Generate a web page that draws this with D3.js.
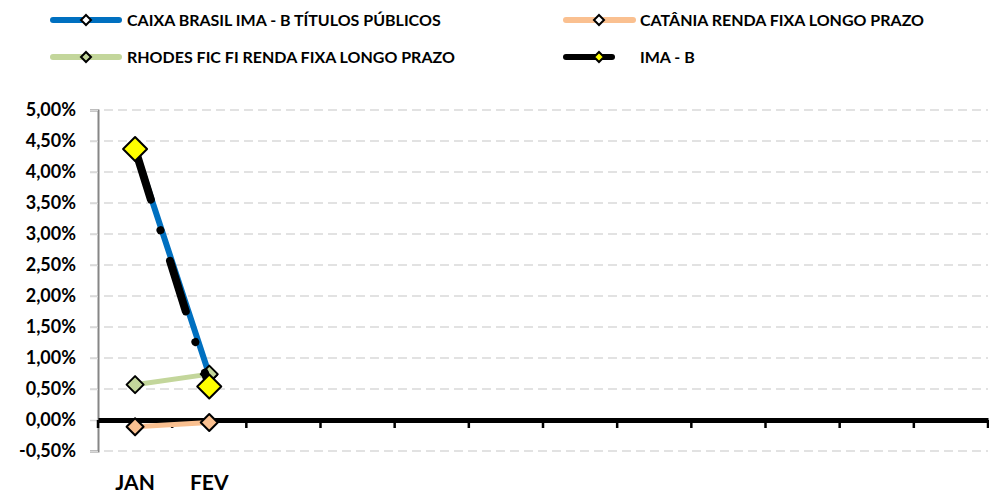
<!DOCTYPE html>
<html>
<head>
<meta charset="utf-8">
<script src="https://cdn.jsdelivr.net/npm/d3@7"></script>
<style>
    body { margin: 0; background: #fff; }
    text { font-family: Lato, "Open Sans", sans-serif; font-weight: bold; fill: #000; }
</style>
</head>
<body>
<svg id="chart" width="989" height="494"></svg>
<script>
// Categories (only JAN and FEV have values)
var months = ["JAN", "FEV", "MAR", "ABR", "MAI", "JUN", "JUL", "AGO", "SET", "OUT", "NOV", "DEZ"];
var monthLabels = ["JAN", "FEV", "", "", "", "", "", "", "", "", "", ""];
var yTicks = [-0.5, 0, 0.5, 1, 1.5, 2, 2.5, 3, 3.5, 4, 4.5, 5];

// Series values (% per month)
var caixa = [4.37, 0.73];
var catania = [-0.11, -0.04];
var rhodes = [0.57, 0.74];
var imab = [4.37, 0.54];

var seriesNames = ["CAIXA BRASIL IMA - B TÍTULOS PÚBLICOS", "CATÂNIA RENDA FIXA LONGO PRAZO",
                   "RHODES FIC FI RENDA FIXA LONGO PRAZO", "IMA - B"];

var svg = d3.select("#chart");

var x = d3.scaleBand().domain(months).range([98, 988]);
var y = d3.scaleLinear().domain([-0.5, 5]).range([451, 110]);

var fmt = function (v) { return v.toFixed(2).replace(".", ",") + "%"; };

// gridlines
svg.append("g").selectAll("line")
    .data(yTicks.filter(d => d !== 0))
    .enter().append("line")
        .attr("x1", 90).attr("x2", 988)
        .attr("y1", d => y(d)).attr("y2", d => y(d))
        .attr("stroke", "#d9d9d9")
        .attr("stroke-width", 1.5)
        .attr("stroke-dasharray", "9,5");

// y axis
var yAxis = svg.append("g")
    .attr("transform", "translate(98,0)")
    .call(d3.axisLeft(y).tickValues(yTicks).tickFormat(fmt).tickSize(8).tickPadding(14));
yAxis.select(".domain").attr("stroke", "#868686").attr("stroke-width", 2);
yAxis.selectAll(".tick line").attr("stroke", "#d9d9d9").attr("stroke-width", 1.5);
yAxis.selectAll(".tick text")
    .style("font-family", "Lato, sans-serif").style("font-weight", "bold")
    .style("font-size", "18px").attr("fill", "#000");

// x axis at zero
var xAxis = svg.append("g")
    .attr("transform", "translate(0," + y(0) + ")")
    .call(d3.axisBottom(x).tickSize(0).tickFormat(""));
xAxis.select(".domain").attr("stroke", "#000").attr("stroke-width", 5);
xAxis.selectAll(".tick").remove();

// x ticks at category boundaries
var bounds = months.map(m => x(m)).concat([x.range()[1]]);
svg.append("g").selectAll("line")
    .data(bounds)
    .enter().append("line")
        .attr("x1", d => d).attr("x2", d => d)
        .attr("y1", y(0)).attr("y2", y(0) + 8)
        .attr("stroke", "#000").attr("stroke-width", 2.5);

// x labels
svg.append("g").selectAll("text")
    .data(months)
    .enter().append("text")
        .attr("x", d => x(d) + x.bandwidth() / 2)
        .attr("y", 490)
        .attr("text-anchor", "middle")
        .style("font-size", "21px")
        .text((d, i) => monthLabels[i]);

var line = d3.line()
    .x((d, i) => x(months[i]) + x.bandwidth() / 2)
    .y(d => y(d));

function diamond(g, data, r, fill) {
    g.selectAll("path.mk")
        .data(data)
        .enter().append("path")
            .attr("class", "mk")
            .attr("d", (d, i) => {
                var cx = x(months[i]) + x.bandwidth() / 2, cy = y(d);
                return "M" + cx + "," + (cy - r) + "L" + (cx + r) + "," + cy + "L" + cx + "," + (cy + r) + "L" + (cx - r) + "," + cy + "Z";
            })
            .attr("fill", fill)
            .attr("stroke", "#000")
            .attr("stroke-width", 2)
            .attr("stroke-linejoin", "round");
}

// CAIXA
var g1 = svg.append("g");
g1.append("path").datum(caixa).attr("d", line)
    .attr("fill", "none").attr("stroke", "#0070c0").attr("stroke-width", 6).attr("stroke-linecap", "round");
diamond(g1, caixa, 8, "#0070c0");

// CATÂNIA
var g2 = svg.append("g");
g2.append("path").datum(catania).attr("d", line)
    .attr("fill", "none").attr("stroke", "#fac090").attr("stroke-width", 5).attr("stroke-linecap", "round");
diamond(g2, catania, 8.5, "#fac090");

// RHODES
var g3 = svg.append("g");
g3.append("path").datum(rhodes).attr("d", line)
    .attr("fill", "none").attr("stroke", "#c3d69b").attr("stroke-width", 5).attr("stroke-linecap", "round");
diamond(g3, rhodes, 8.5, "#c3d69b");

// IMA - B
var g4 = svg.append("g");
g4.append("path").datum(imab).attr("d", line)
    .attr("fill", "none").attr("stroke", "#000").attr("stroke-width", 8)
    .attr("stroke-linecap", "round").attr("stroke-dasharray", "53,32,0.1,32");
diamond(g4, imab, 12, "#ffff00");

// legend
var legendItems = [
    { name: seriesNames[0], color: "#0070c0", fill: "#ffffff", x: 50, y: 20, len: 72 },
    { name: seriesNames[1], color: "#fac090", fill: "#ffffff", x: 563, y: 20, len: 73 },
    { name: seriesNames[2], color: "#c3d69b", fill: "#c3d69b", x: 50, y: 57, len: 72 },
    { name: seriesNames[3], color: "#000000", fill: "#ffff00", x: 563, y: 57, len: 52 }
];
var lg = svg.append("g").selectAll("g")
    .data(legendItems)
    .enter().append("g")
        .attr("transform", d => "translate(" + d.x + "," + d.y + ")");
lg.append("line")
    .attr("x1", 3).attr("x2", d => d.len - 3)
    .attr("y1", 0).attr("y2", 0)
    .attr("stroke", d => d.color).attr("stroke-width", 6).attr("stroke-linecap", "round");
lg.append("path")
    .attr("d", "M36,-5L41,0L36,5L31,0Z")
    .attr("fill", d => d.fill)
    .attr("stroke", "#000").attr("stroke-width", 2);
lg.append("text")
    .attr("x", 77)
    .attr("y", 5.5)
    .style("font-size", "16px")
    .text(d => d.name);
</script>
</body>
</html>
